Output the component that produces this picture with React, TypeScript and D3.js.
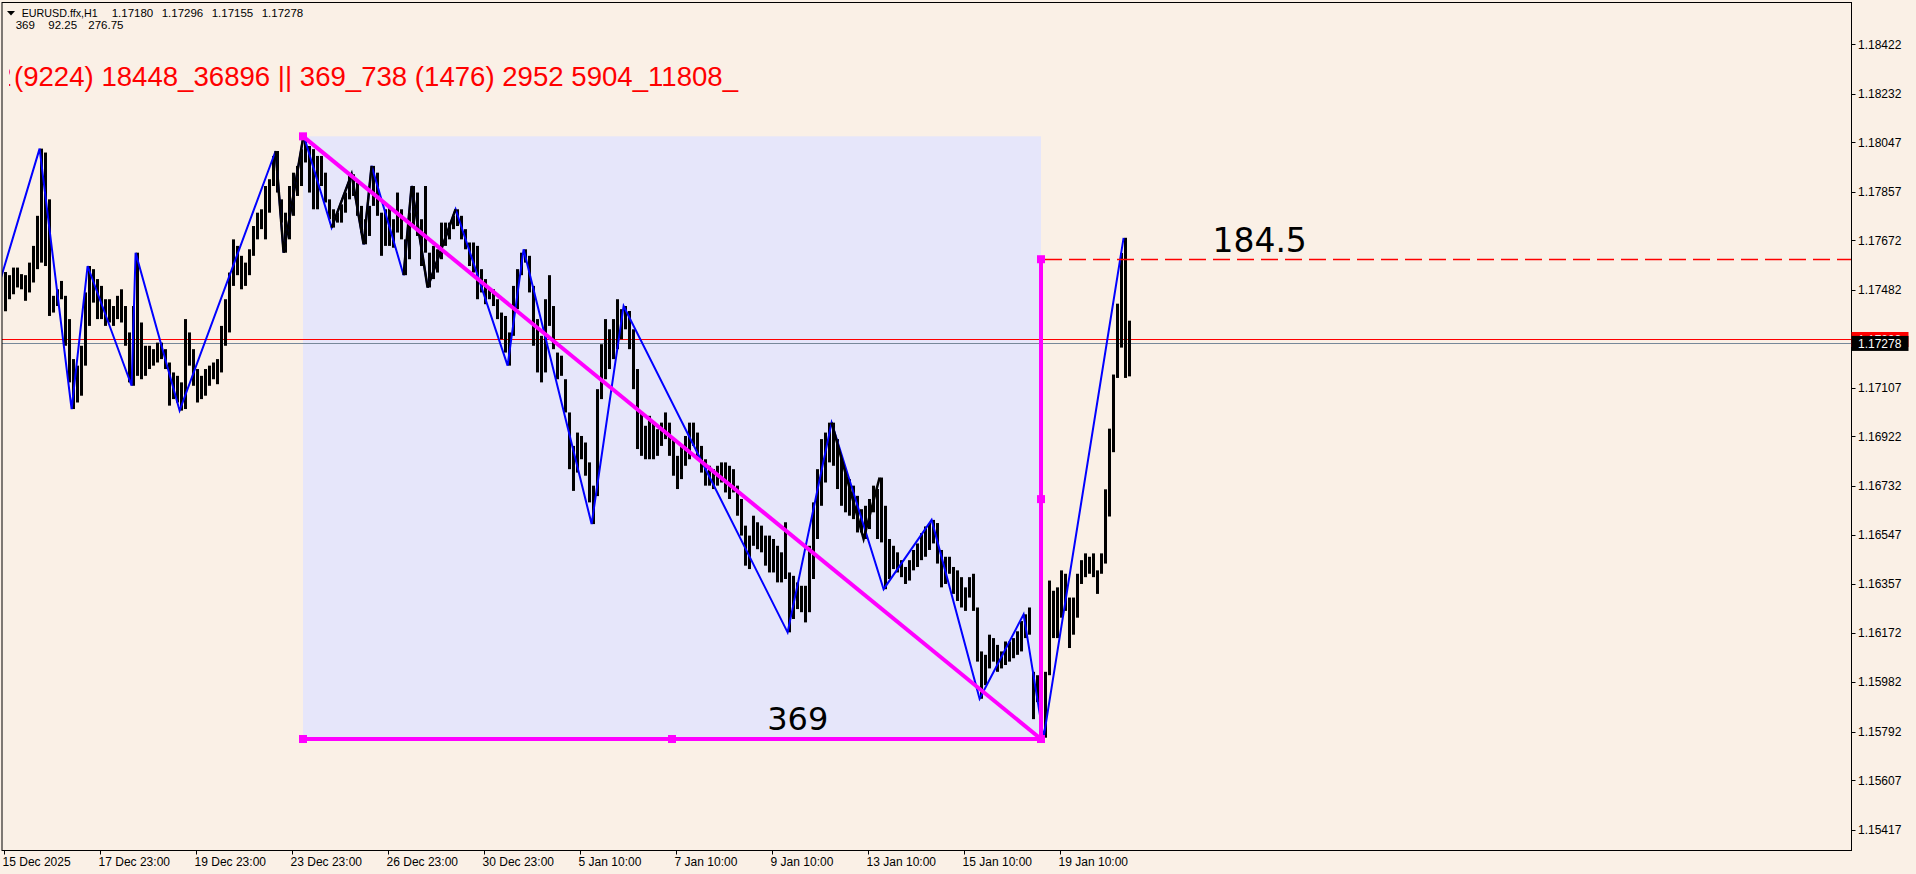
import React, { useEffect } from 'react';
import * as d3 from 'd3';

const WIDTH = 1916;
const HEIGHT = 874;

// ---- axis labels ----
const priceTicks = [1.18422, 1.18232, 1.18047, 1.17857, 1.17672, 1.17482, 1.17107, 1.16922, 1.16732, 1.16547, 1.16357, 1.16172, 1.15982, 1.15792, 1.15607, 1.15417];
const timeTickIdx = [0, 24, 48, 72, 96, 120, 144, 168, 192, 216, 240, 264];
const timeTickLabels = ['15 Dec 2025', '17 Dec 23:00', '19 Dec 23:00', '23 Dec 23:00', '26 Dec 23:00', '30 Dec 23:00', '5 Jan 10:00', '7 Jan 10:00', '9 Jan 10:00', '13 Jan 10:00', '15 Jan 10:00', '19 Jan 10:00'];

// ---- price bars (2-hour high / low) ----
const highs = [
  1.17551, 1.17539, 1.17568, 1.17568, 1.17543, 1.17539, 1.17587, 1.17651, 1.17766, 1.18023,
  1.18008, 1.17829, 1.17460, 1.17485, 1.17517, 1.17460, 1.17371, 1.17218, 1.17193, 1.17269,
  1.17473, 1.17574, 1.17562, 1.17524, 1.17498, 1.17447, 1.17447, 1.17421, 1.17460, 1.17485,
  1.17421, 1.17320, 1.17421, 1.17625, 1.17358, 1.17269, 1.17269, 1.17256, 1.17281, 1.17281,
  1.17256, 1.17205, 1.17167, 1.17154, 1.17129, 1.17371, 1.17320, 1.17256, 1.17180, 1.17154,
  1.17180, 1.17193, 1.17205, 1.17218, 1.17345, 1.17447, 1.17549, 1.17676, 1.17651, 1.17613,
  1.17587, 1.17638, 1.17727, 1.17778, 1.17791, 1.17880, 1.17906, 1.17995, 1.18014, 1.17829,
  1.17778, 1.17880, 1.17931, 1.17957, 1.18021, 1.18074, 1.18033, 1.18021, 1.17995, 1.17995,
  1.17931, 1.17829, 1.17791, 1.17778, 1.17810, 1.17855, 1.17919, 1.17925, 1.17893, 1.17804,
  1.17753, 1.17804, 1.17957, 1.17931, 1.17778, 1.17791, 1.17804, 1.17753, 1.17855, 1.17791,
  1.17676, 1.17778, 1.17880, 1.17855, 1.17753, 1.17880, 1.17625, 1.17651, 1.17638, 1.17740,
  1.17740, 1.17740, 1.17766, 1.17791, 1.17766, 1.17715, 1.17664, 1.17664, 1.17651, 1.17562,
  1.17524, 1.17485, 1.17485, 1.17447, 1.17396, 1.17383, 1.17320, 1.17498, 1.17562, 1.17625,
  1.17638, 1.17613, 1.17498, 1.17371, 1.17307, 1.17447, 1.17539, 1.17421, 1.17243, 1.17231,
  1.17141, 1.17014, 1.16886, 1.16937, 1.16924, 1.16899, 1.16823, 1.16734, 1.17103, 1.17275,
  1.17371, 1.17332, 1.17371, 1.17447, 1.17409, 1.17421, 1.17402, 1.17332, 1.17180, 1.17014,
  1.16963, 1.17001, 1.16975, 1.16950, 1.16975, 1.17014, 1.16975, 1.16912, 1.16848, 1.16886,
  1.16924, 1.16975, 1.16975, 1.16937, 1.16886, 1.16835, 1.16810, 1.16797, 1.16810, 1.16823,
  1.16823, 1.16810, 1.16797, 1.16734, 1.16683, 1.16581, 1.16543, 1.16619, 1.16594, 1.16581,
  1.16543, 1.16543, 1.16530, 1.16504, 1.16479, 1.16594, 1.16402, 1.16389, 1.16364, 1.16351,
  1.16351, 1.16504, 1.16670, 1.16797, 1.16912, 1.16937, 1.16975, 1.16975, 1.16912, 1.16848,
  1.16797, 1.16759, 1.16734, 1.16695, 1.16644, 1.16657, 1.16683, 1.16734, 1.16721, 1.16765,
  1.16657, 1.16530, 1.16504, 1.16479, 1.16449, 1.16423, 1.16449, 1.16488, 1.16513, 1.16552,
  1.16578, 1.16591, 1.16603, 1.16591, 1.16488, 1.16462, 1.16462, 1.16423, 1.16410, 1.16384,
  1.16345, 1.16384, 1.16397, 1.16268, 1.16100, 1.16087, 1.16164, 1.16151, 1.16125, 1.16100,
  1.16138, 1.16138, 1.16151, 1.16177, 1.16216, 1.16242, 1.16268, 1.16022, 1.16009, 1.16009,
  1.16022, 1.16371, 1.16332, 1.16345, 1.16410, 1.16397, 1.16306, 1.16306, 1.16397, 1.16449,
  1.16475, 1.16462, 1.16475, 1.16410, 1.16475, 1.16720, 1.16952, 1.17159, 1.17430, 1.17624,
  1.17682, 1.17365,
];
const lows = [
  1.17401, 1.17447, 1.17466, 1.17492, 1.17485, 1.17441, 1.17473, 1.17511, 1.17562, 1.17587,
  1.17574, 1.17383, 1.17396, 1.17421, 1.17447, 1.17269, 1.17129, 1.17027, 1.17052, 1.17078,
  1.17193, 1.17345, 1.17434, 1.17371, 1.17371, 1.17345, 1.17358, 1.17345, 1.17371, 1.17358,
  1.17269, 1.17129, 1.17116, 1.17154, 1.17141, 1.17154, 1.17180, 1.17193, 1.17205, 1.17218,
  1.17180, 1.17040, 1.17065, 1.17052, 1.17021, 1.17027, 1.17193, 1.17116, 1.17052, 1.17065,
  1.17078, 1.17116, 1.17141, 1.17122, 1.17167, 1.17269, 1.17320, 1.17498, 1.17539, 1.17485,
  1.17498, 1.17539, 1.17613, 1.17676, 1.17715, 1.17676, 1.17778, 1.17880, 1.17855, 1.17740,
  1.17625, 1.17676, 1.17766, 1.17842, 1.17880, 1.17970, 1.17855, 1.17791, 1.17791, 1.17880,
  1.17817, 1.17753, 1.17721, 1.17740, 1.17740, 1.17778, 1.17829, 1.17842, 1.17766, 1.17702,
  1.17657, 1.17689, 1.17804, 1.17766, 1.17613, 1.17651, 1.17651, 1.17644, 1.17702, 1.17676,
  1.17539, 1.17600, 1.17727, 1.17689, 1.17574, 1.17625, 1.17492, 1.17524, 1.17549, 1.17600,
  1.17651, 1.17676, 1.17715, 1.17727, 1.17676, 1.17638, 1.17574, 1.17549, 1.17447, 1.17473,
  1.17428, 1.17447, 1.17421, 1.17371, 1.17294, 1.17243, 1.17193, 1.17307, 1.17409, 1.17539,
  1.17587, 1.17473, 1.17269, 1.17167, 1.17129, 1.17167, 1.17345, 1.17256, 1.17141, 1.17154,
  1.17014, 1.16797, 1.16714, 1.16784, 1.16835, 1.16772, 1.16670, 1.16587, 1.16694, 1.17065,
  1.17141, 1.17180, 1.17218, 1.17256, 1.17294, 1.17332, 1.17256, 1.17103, 1.16874, 1.16848,
  1.16835, 1.16835, 1.16835, 1.16848, 1.16886, 1.16912, 1.16848, 1.16772, 1.16721, 1.16759,
  1.16810, 1.16835, 1.16886, 1.16835, 1.16784, 1.16734, 1.16734, 1.16721, 1.16734, 1.16746,
  1.16708, 1.16683, 1.16708, 1.16619, 1.16543, 1.16428, 1.16415, 1.16504, 1.16491, 1.16479,
  1.16428, 1.16402, 1.16402, 1.16364, 1.16364, 1.16377, 1.16173, 1.16224, 1.16262, 1.16250,
  1.16211, 1.16250, 1.16377, 1.16530, 1.16657, 1.16746, 1.16823, 1.16810, 1.16721, 1.16657,
  1.16632, 1.16619, 1.16606, 1.16555, 1.16555, 1.16530, 1.16568, 1.16632, 1.16530, 1.16517,
  1.16338, 1.16377, 1.16415, 1.16402, 1.16384, 1.16358, 1.16371, 1.16410, 1.16423, 1.16449,
  1.16462, 1.16488, 1.16513, 1.16436, 1.16345, 1.16358, 1.16397, 1.16320, 1.16293, 1.16268,
  1.16255, 1.16306, 1.16255, 1.16061, 1.15919, 1.15971, 1.16035, 1.16061, 1.16022, 1.16035,
  1.16048, 1.16061, 1.16074, 1.16087, 1.16100, 1.16151, 1.16164, 1.15841, 1.15906, 1.15893,
  1.15770, 1.16009, 1.16151, 1.16151, 1.16229, 1.16255, 1.16113, 1.16164, 1.16229, 1.16358,
  1.16384, 1.16397, 1.16384, 1.16320, 1.16397, 1.16436, 1.16616, 1.16862, 1.17146, 1.17262,
  1.17146, 1.17152,
];

// ---- ZigZag indicators (bar index, price) ----
const zzBlueIdx = [-3, 9, 17, 21, 32, 33, 44, 68, 70, 75, 82, 87, 90, 92, 100, 102, 106, 113, 126, 130, 147, 155, 196, 207, 220, 232, 244, 255, 260, 280];
const zzBluePrice = [1.17409, 1.18023, 1.17027, 1.17574, 1.17116, 1.17625, 1.17021, 1.18014, 1.17625, 1.18074, 1.17721, 1.17925, 1.17657, 1.17957, 1.17539, 1.17880, 1.17492, 1.17791, 1.17193, 1.17638, 1.16587, 1.17421, 1.16173, 1.16975, 1.16338, 1.16603, 1.15919, 1.16242, 1.15770, 1.17682];
// black ZigZag runs drawn on top
const zzBlackIdx = [68, 70, 75, 82, 87, 90, 92, 100, 102, 106, 113, 207, 215, 219];
const zzBlackPrice = [1.18014, 1.17625, 1.18074, 1.17721, 1.17925, 1.17657, 1.17957, 1.17539, 1.17880, 1.17492, 1.17791, 1.16975, 1.16530, 1.16765];
const zzBlackBreaks = [3, 7, 11];

// ---- header / labels ----
const symbolText = 'EURUSD.ffx,H1';
const ohlcValues = ['1.17180', '1.17296', '1.17155', '1.17278'];
const infoValues = ['369', '92.25', '276.75'];
const fibHidden = '1153_2306 4612';
const fibText = '(9224) 18448_36896 || 369_738 (1476) 2952 5904_11808_';

const bidPrice = 1.17278;
const askPrice = 1.17293;

// ---- drawn objects ----
const boxStartIdx = 74.85;
const boxEndIdx = 259.35;
const boxTopPrice = 1.18070;
const boxBottomPrice = 1.15765;
const vertTopPrice = 1.17600;
const barsLabel = { idx: 190.9, price: 1.15799, text: '369' };
const halfLabel = { idx: 302.2, price: 1.17628, text: '184.5' };

const MAGENTA = '#FF00FF';

export default function App() {
  useEffect(() => {
    document.body.style.margin = '0';
  }, []);

  const x = d3.scaleLinear().domain([0, 1]).range([3.6, 7.6]);
  const y = d3.scaleLinear().domain([1.15417, 1.18422]).range([830, 44.3]);
  const plot = { left: 2, top: 2.5, right: 1851.5, bottom: 850.5 };

  const blueLine = d3.line<number>().x((_, i) => x(zzBlueIdx[i])).y((d) => y(d));
  const blackRuns: [number, number][][] = [];
  let run: [number, number][] = [];
  zzBlackIdx.forEach((k, i) => {
    if (zzBlackBreaks.includes(i) && run.length) {
      blackRuns.push(run);
      run = [];
    }
    run.push([x(k), y(zzBlackPrice[i])]);
  });
  if (run.length) blackRuns.push(run);
  const pairLine = d3.line<[number, number]>();

  const bx0 = x(boxStartIdx);
  const bx1 = x(boxEndIdx);
  const byTop = y(boxTopPrice);
  const byBot = y(boxBottomPrice);
  const vTop = y(vertTopPrice);
  const sq = 8;
  const squares: [number, number][] = [
    [bx0, byTop],
    [bx0, byBot],
    [(bx0 + bx1) / 2, byBot],
    [bx1, byBot],
    [bx1, vTop],
    [bx1, (vTop + byBot) / 2],
  ];

  const font = "'Liberation Sans', Arial, sans-serif";

  return (
    <svg
      width={WIDTH}
      height={HEIGHT}
      style={{ position: 'absolute', left: 0, top: 0, display: 'block' }}
      fontFamily={font}
    >
      <defs>
        <clipPath id="plotClip">
          <rect x={plot.left} y={plot.top} width={plot.right - plot.left} height={plot.bottom - plot.top} />
        </clipPath>
        <clipPath id="fibClip">
          <rect x={9} y={0} width={200} height={120} />
        </clipPath>
      </defs>
      <rect x={0} y={0} width={WIDTH} height={HEIGHT} fill="#FAF0E6" />

      <g clipPath="url(#plotClip)">
        {/* rectangle object */}
        <rect x={bx0} y={byTop} width={bx1 - bx0} height={byBot - byTop} fill="#E6E6FA" />

        {/* ask / bid lines */}
        <line x1={plot.left} x2={plot.right} y1={Math.round(y(askPrice)) + 0.5} y2={Math.round(y(askPrice)) + 0.5} stroke="#FF0000" strokeWidth={1} />
        <line x1={plot.left} x2={plot.right} y1={Math.round(y(bidPrice)) + 0.5} y2={Math.round(y(bidPrice)) + 0.5} stroke="#778899" strokeWidth={1} />

        {/* bars */}
        {highs.map((h, k) => (
          <rect
            key={k}
            x={Math.round(x(k))}
            y={y(h)}
            width={3}
            height={Math.max(1, y(lows[k]) - y(h))}
            fill="#000"
          />
        ))}

        {/* zigzags */}
        <path d={blueLine(zzBluePrice) || ''} fill="none" stroke="#0000FF" strokeWidth={2} />
        {blackRuns.map((r, i) => (
          <path key={i} d={pairLine(r) || ''} fill="none" stroke="#000" strokeWidth={2.5} />
        ))}

        {/* magenta objects */}
        <line x1={bx0} y1={byTop} x2={bx1} y2={byBot} stroke={MAGENTA} strokeWidth={4} />
        <line x1={bx0} y1={byBot} x2={bx1} y2={byBot} stroke={MAGENTA} strokeWidth={4} />
        <line x1={bx1} y1={byBot} x2={bx1} y2={vTop} stroke={MAGENTA} strokeWidth={4} />
        {squares.map(([sx, sy], i) => (
          <rect key={i} x={sx - sq / 2} y={sy - sq / 2} width={sq} height={sq} fill={MAGENTA} />
        ))}
        <line x1={bx1 + 4} x2={plot.right} y1={Math.round(vTop) + 0.5} y2={Math.round(vTop) + 0.5} stroke="#FF0000" strokeWidth={1.5} strokeDasharray="17,7" />

        {/* text objects */}
        <text x={x(barsLabel.idx)} y={y(barsLabel.price)} fontFamily="'DejaVu Sans', sans-serif" fontSize={32} fill="#000">{barsLabel.text}</text>
        <text x={x(halfLabel.idx)} y={y(halfLabel.price)} fontFamily="'DejaVu Sans', sans-serif" fontSize={33} fill="#000">{halfLabel.text}</text>

        <g clipPath="url(#fibClip)">
          <text x={11.5} y={86} fontSize={28} fill="#FF0000" textAnchor="end">{fibHidden}</text>
        </g>
        <text x={14} y={86} fontSize={28} fill="#FF0000" textLength={724} lengthAdjust="spacingAndGlyphs">{fibText}</text>

        {/* header */}
        <polygon points="7,11 15,11 11,15.5" fill="#000" />
        <text x={21.7} y={16.7} fontSize={11} fill="#000" textLength={76} lengthAdjust="spacingAndGlyphs">{symbolText}</text>
        {ohlcValues.map((v, i) => (
          <text key={v + i} x={111.7 + i * 50} y={16.7} fontSize={11.5} fill="#000">{v}</text>
        ))}
        {infoValues.map((v, i) => (
          <text key={v + i} x={[15.7, 48.3, 88.3][i]} y={29.3} fontSize={11.5} fill="#000">{v}</text>
        ))}
      </g>

      {/* frame */}
      <rect x={plot.left} y={plot.top} width={plot.right - plot.left} height={plot.bottom - plot.top} fill="none" stroke="#000" strokeWidth={1} />

      {/* price axis */}
      {priceTicks.map((p) => (
        <g key={p}>
          <line x1={plot.right} x2={plot.right + 4} y1={Math.round(y(p)) + 0.5} y2={Math.round(y(p)) + 0.5} stroke="#000" />
          <text x={1858} y={y(p)} dy="0.35em" fontSize={12} fill="#000">{p.toFixed(5)}</text>
        </g>
      ))}

      {/* price tags */}
      <rect x={plot.right} y={y(askPrice) - 7.5} width={57} height={15} fill="#FF0000" />
      <text x={1858} y={y(askPrice)} dy="0.35em" fontSize={12} fill="#FFFFFF">{askPrice.toFixed(5)}</text>
      <rect x={plot.right} y={y(bidPrice) - 7.5} width={57} height={15} fill="#000" />
      <text x={1858} y={y(bidPrice)} dy="0.35em" fontSize={12} fill="#FFFFFF">{bidPrice.toFixed(5)}</text>

      {/* time axis */}
      {timeTickIdx.map((k, i) => (
        <g key={k}>
          <line x1={Math.round(x(k)) + 0.5} x2={Math.round(x(k)) + 0.5} y1={plot.bottom} y2={plot.bottom + 4} stroke="#000" />
          <text x={x(k) - 1} y={866} fontSize={12} fill="#000">{timeTickLabels[i]}</text>
        </g>
      ))}
    </svg>
  );
}
